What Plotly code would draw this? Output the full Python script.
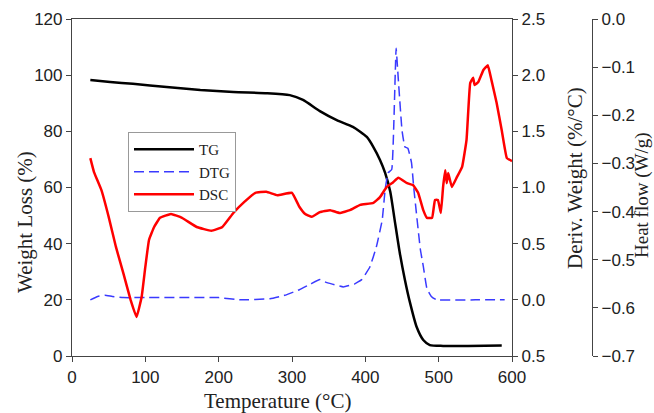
import plotly.graph_objects as go

# ---------------- data ----------------
tg_temp = [25, 52, 83, 129, 175, 220, 266, 297, 315, 338, 361, 383, 402, 411, 420, 427, 434,
           440, 447, 454, 461, 470, 479, 488, 506, 540, 586]
tg_weight = [98.3, 97.6, 96.9, 95.8, 94.7, 94.0, 93.6, 92.9, 91.2, 87.2, 84.0, 81.6, 78.0, 74.4,
             69.8, 65.2, 58.5, 48.4, 36.7, 27.1, 18.9, 10.3, 5.7, 3.9, 3.6, 3.6, 3.7]

dtg_temp = [25, 35, 45, 55, 70, 100, 150, 200, 230, 270, 290, 310, 325, 338, 345, 355, 370, 385,
            395, 406, 415, 423, 427, 431, 436, 439, 442, 445, 450, 454, 458, 463, 466, 470, 475,
            479, 484, 490, 497, 550, 590]
dtg_deriv = [0.0, 0.03, 0.04, 0.03, 0.02, 0.02, 0.02, 0.02, 0.0, 0.01, 0.04, 0.09, 0.14, 0.18,
             0.16, 0.14, 0.115, 0.14, 0.18, 0.29, 0.47, 0.71, 0.98, 1.13, 1.16, 1.6, 2.24, 1.96,
             1.51, 1.36, 1.35, 1.22, 1.0, 0.75, 0.45, 0.3, 0.1, 0.03, 0.0, 0.0, 0.0]

dsc_temp = [25, 30, 40, 50, 60, 70, 80, 88, 95, 100, 105, 112, 120, 135, 150, 170, 190, 205, 220,
            235, 250, 265, 280, 300, 310, 318, 327, 338, 352, 365, 379, 393, 411, 420, 429, 438,
            445, 457, 465, 472, 479, 484, 491, 495, 499, 503, 506, 509, 511, 513, 518, 525, 532,
            538, 543, 547, 549, 554, 561, 567, 572, 579, 586, 593, 600]
dsc_heat = [-0.289, -0.318, -0.355, -0.411, -0.474, -0.528, -0.584, -0.619, -0.577, -0.515,
            -0.459, -0.432, -0.413, -0.405, -0.413, -0.432, -0.440, -0.432, -0.403, -0.380,
            -0.361, -0.359, -0.366, -0.361, -0.390, -0.405, -0.411, -0.401, -0.397, -0.403,
            -0.397, -0.386, -0.382, -0.370, -0.349, -0.339, -0.330, -0.341, -0.345, -0.361,
            -0.397, -0.413, -0.413, -0.376, -0.376, -0.403, -0.349, -0.314, -0.341, -0.320,
            -0.349, -0.328, -0.307, -0.251, -0.133, -0.122, -0.137, -0.131, -0.106, -0.096,
            -0.127, -0.174, -0.231, -0.289, -0.295]

x_ticks = [0, 100, 200, 300, 400, 500, 600]
y_ticks = [0, 20, 40, 60, 80, 100, 120]
y2_tickvals = [-0.5, 0.0, 0.5, 1.0, 1.5, 2.0, 2.5]
y2_ticktext = ["0.5", "0.0", "0.5", "1.0", "1.5", "2.0", "2.5"]
y3_tickvals = [0.0, -0.1, -0.2, -0.3, -0.4, -0.5, -0.6, -0.7]
y3_ticktext = ["0.0", "\u22120.1", "\u22120.2", "\u22120.3", "\u22120.4", "\u22120.5", "\u22120.6", "\u22120.7"]

# ---------------- figure ----------------
SANS = "Liberation Sans, Arial, sans-serif"
SERIF = "Liberation Serif, Times New Roman, serif"
AX = "#444444"

fig = go.Figure()
fig.add_trace(go.Scatter(x=tg_temp, y=tg_weight, name="TG", mode="lines",
                         line=dict(color="black", width=2.5, shape="spline", smoothing=0.6),
                         yaxis="y"))
fig.add_trace(go.Scatter(x=dtg_temp, y=dtg_deriv, name="DTG", mode="lines",
                         line=dict(color="#3a3aff", width=1.5, dash="10px,5px",
                                   shape="spline", smoothing=0.3),
                         yaxis="y2"))
fig.add_trace(go.Scatter(x=dsc_temp, y=dsc_heat, name="DSC", mode="lines",
                         line=dict(color="#ff0000", width=2.5, shape="spline", smoothing=0.3),
                         yaxis="y3"))

common_tick = dict(ticks="outside", ticklen=5, tickwidth=1, tickcolor=AX, automargin=False,
                   showline=True, linecolor=AX, linewidth=1.2, showgrid=False, zeroline=False,
                   tickfont=dict(family=SANS, size=17, color="#222"))

plot_w = 654 - 72 - 54


def ann(text, px, py, angle=0, size=21):
    return dict(text=text, x=(px - 72) / plot_w, y=1 - (py - 19) / 337,
                xref="paper", yref="paper", xanchor="center", yanchor="middle",
                showarrow=False, textangle=angle, borderpad=0,
                font=dict(family=SERIF, size=size, color="#222"))


fig.update_layout(
    width=654, height=413,
    margin=dict(l=72, r=54, t=19, b=57, autoexpand=False),
    paper_bgcolor="white", plot_bgcolor="white",
    showlegend=True,
    xaxis=dict(domain=[0, 440 / plot_w], range=[0, 600], tickvals=x_ticks,
               mirror=True, **common_tick),
    yaxis=dict(range=[0, 120], tickvals=y_ticks, **common_tick),
    yaxis2=dict(range=[-0.5, 2.5], tickvals=y2_tickvals, ticktext=y2_ticktext,
                overlaying="y", side="right", anchor="x", **common_tick),
    yaxis3=dict(range=[-0.7, 0.0], tickvals=y3_tickvals, ticktext=y3_ticktext,
                overlaying="y", side="right", anchor="free",
                position=(592 - 72) / plot_w, **common_tick),
    legend=dict(x=(128 - 72) / plot_w, y=1 - (132 - 19) / 337, xanchor="left", yanchor="top",
                bgcolor="white", bordercolor="#999999", borderwidth=1,
                font=dict(family=SERIF, size=15, color="#222"), itemwidth=60,
                tracegroupgap=0),
    annotations=[
        ann("Weight Loss (%)", 25, 222, -90),
        ann("Temperature (\u00b0C)", 277, 401),
        ann("Deriv. Weight (%/\u00b0C)", 575, 178, -90),
        ann("Heat flow (W/g)", 642, 195, -90, 19),
    ],
)

fig.write_html("out.html", config={"displayModeBar": False})

# remove the browser's default body margin so the figure sits at the page origin
with open("out.html", "r", encoding="utf-8") as f:
    html = f.read()
html = html.replace("<body>", '<body style="margin:0;padding:0;overflow:hidden">', 1)
with open("out.html", "w", encoding="utf-8") as f:
    f.write(html)
